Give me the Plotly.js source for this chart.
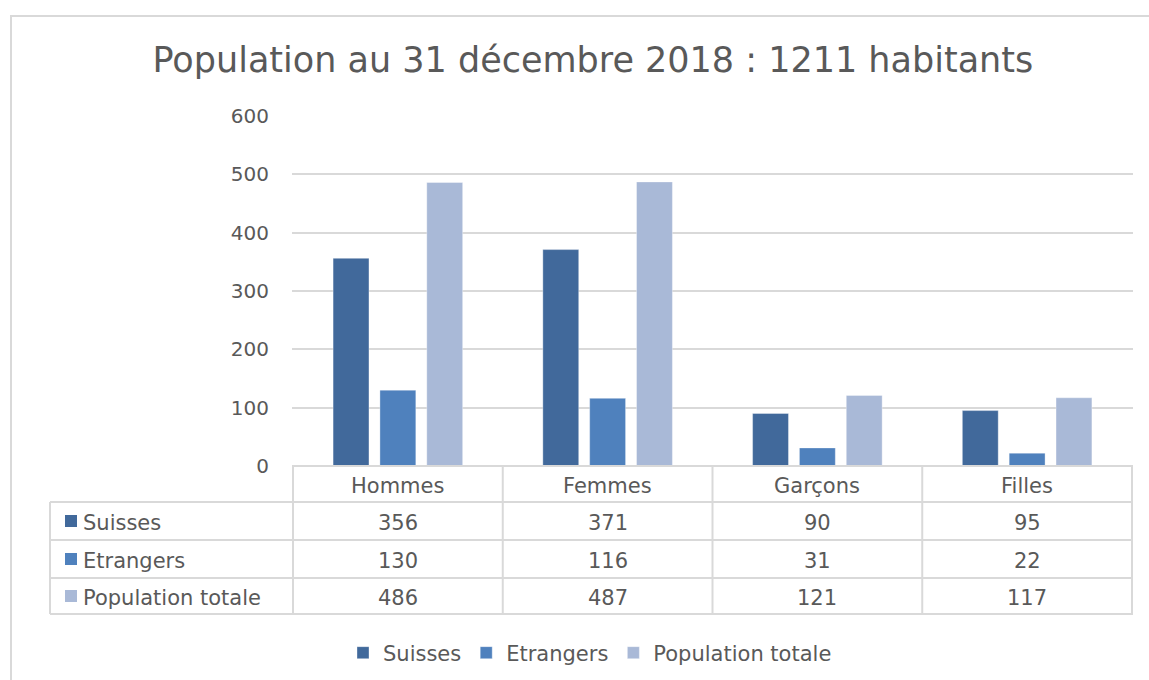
<!DOCTYPE html>
<html>
<head>
<meta charset="utf-8">
<script src="https://cdn.plot.ly/plotly-3.0.1.min.js"></script>
<style>html,body{margin:0;padding:0;background:#fff;}#chart{width:1149px;height:680px;}</style>
</head>
<body>
<div id="chart"></div>
<script>
const categories = ["Hommes", "Femmes", "Garçons", "Filles"];
const seriesNames = ["Suisses", "Etrangers", "Population totale"];
const suisses = [356, 371, 90, 95];
const etrangers = [130, 116, 31, 22];
const total = [486, 487, 121, 117];
const seriesValues = [suisses, etrangers, total];
const colors = ["#41699B", "#4F81BD", "#A9B9D7"];
const titleText = "Population au 31 décembre 2018 : 1211 habitants";

const W = 1149, H = 680;
const M = {l: 292, r: 16, t: 116, b: 214, autoexpand: false};
const pw = W - M.l - M.r, ph = H - M.t - M.b;
const px = v => (v - M.l) / pw;
const py = v => (H - M.b - v) / ph;

const FONT = "Century Gothic, DejaVu Sans, sans-serif";
const GRAY = "#595959";
const LINE = "#D9D9D9";

const traces = seriesNames.map((n, i) => ({
  type: "bar", name: n, x: categories, y: seriesValues[i],
  marker: {color: colors[i], line: {color: "rgba(255,255,255,0.35)", width: 1}},
  hoverinfo: "x+y+name"
}));

const shapes = [];
const ln = (xref, x0, x1, y0, y1) => shapes.push({type: "line", xref: xref, yref: "paper", x0: x0, x1: x1, y0: y0, y1: y1, line: {color: LINE, width: 2}});
// outer chart frame
shapes.push({type: "rect", xref: "paper", yref: "paper", x0: px(11), x1: px(1200), y0: py(16), y1: py(720), line: {color: LINE, width: 2}, fillcolor: "rgba(0,0,0,0)"});
// table horizontal lines
const rowY = [466, 502, 540, 578, 614];
ln("paper", px(292), px(1133), py(rowY[0]), py(rowY[0]));
for (let k = 1; k < rowY.length; k++) ln("paper", px(50), px(1133), py(rowY[k]), py(rowY[k]));
// table vertical lines
ln("paper", px(50), px(50), py(502), py(614));
for (let c = 0; c <= categories.length; c++) ln("x", c - 0.5, c - 0.5, py(466), py(614));

const annotations = [];
categories.forEach((c, j) => {
  annotations.push({xref: "x", yref: "paper", x: c, y: py(486), text: c, showarrow: false, xanchor: "center", yanchor: "middle", font: {family: FONT, size: 21, color: GRAY}});
});
const rowCenters = [521, 559, 596];
seriesNames.forEach((n, i) => {
  seriesValues[i].forEach((v, j) => {
    annotations.push({xref: "x", yref: "paper", x: categories[j], y: py(rowCenters[i] + 2), text: String(v), showarrow: false, xanchor: "center", yanchor: "middle", font: {family: FONT, size: 21, color: GRAY}});
  });
  shapes.push({type: "rect", xref: "paper", yref: "paper", x0: px(65), x1: px(77), y0: py(rowCenters[i] - 6), y1: py(rowCenters[i] + 6), line: {width: 0}, fillcolor: colors[i]});
  annotations.push({xref: "paper", yref: "paper", x: px(81), y: py(rowCenters[i] + 2), text: n, showarrow: false, xanchor: "left", yanchor: "middle", font: {family: FONT, size: 21, color: GRAY}});
});

const layout = {
  width: W, height: H,
  margin: M,
  paper_bgcolor: "#ffffff", plot_bgcolor: "#ffffff",
  title: {text: titleText, x: 0.516, xanchor: "center", y: 0.912, yanchor: "middle", font: {family: FONT, size: 35, color: GRAY}},
  barmode: "group", bargap: 0.33, bargroupgap: 0.234,
  xaxis: {type: "category", showticklabels: false, showgrid: false, zeroline: false, showline: false, ticks: "", fixedrange: true},
  yaxis: {range: [0, 600], dtick: 100, tick0: 0, showgrid: true, gridcolor: LINE, gridwidth: 2, zeroline: false, showline: false, ticks: "", ticklabelstandoff: 22, tickfont: {family: FONT, size: 20, color: GRAY}, fixedrange: true},
  showlegend: true,
  legend: {orientation: "h", x: px(590), xanchor: "center", y: py(653), yanchor: "middle", font: {family: FONT, size: 21, color: GRAY}, bgcolor: "rgba(0,0,0,0)", traceorder: "normal"},
  shapes: shapes,
  annotations: annotations
};

Plotly.newPlot("chart", traces, layout, {displayModeBar: false, staticPlot: true});
</script>
</body>
</html>
